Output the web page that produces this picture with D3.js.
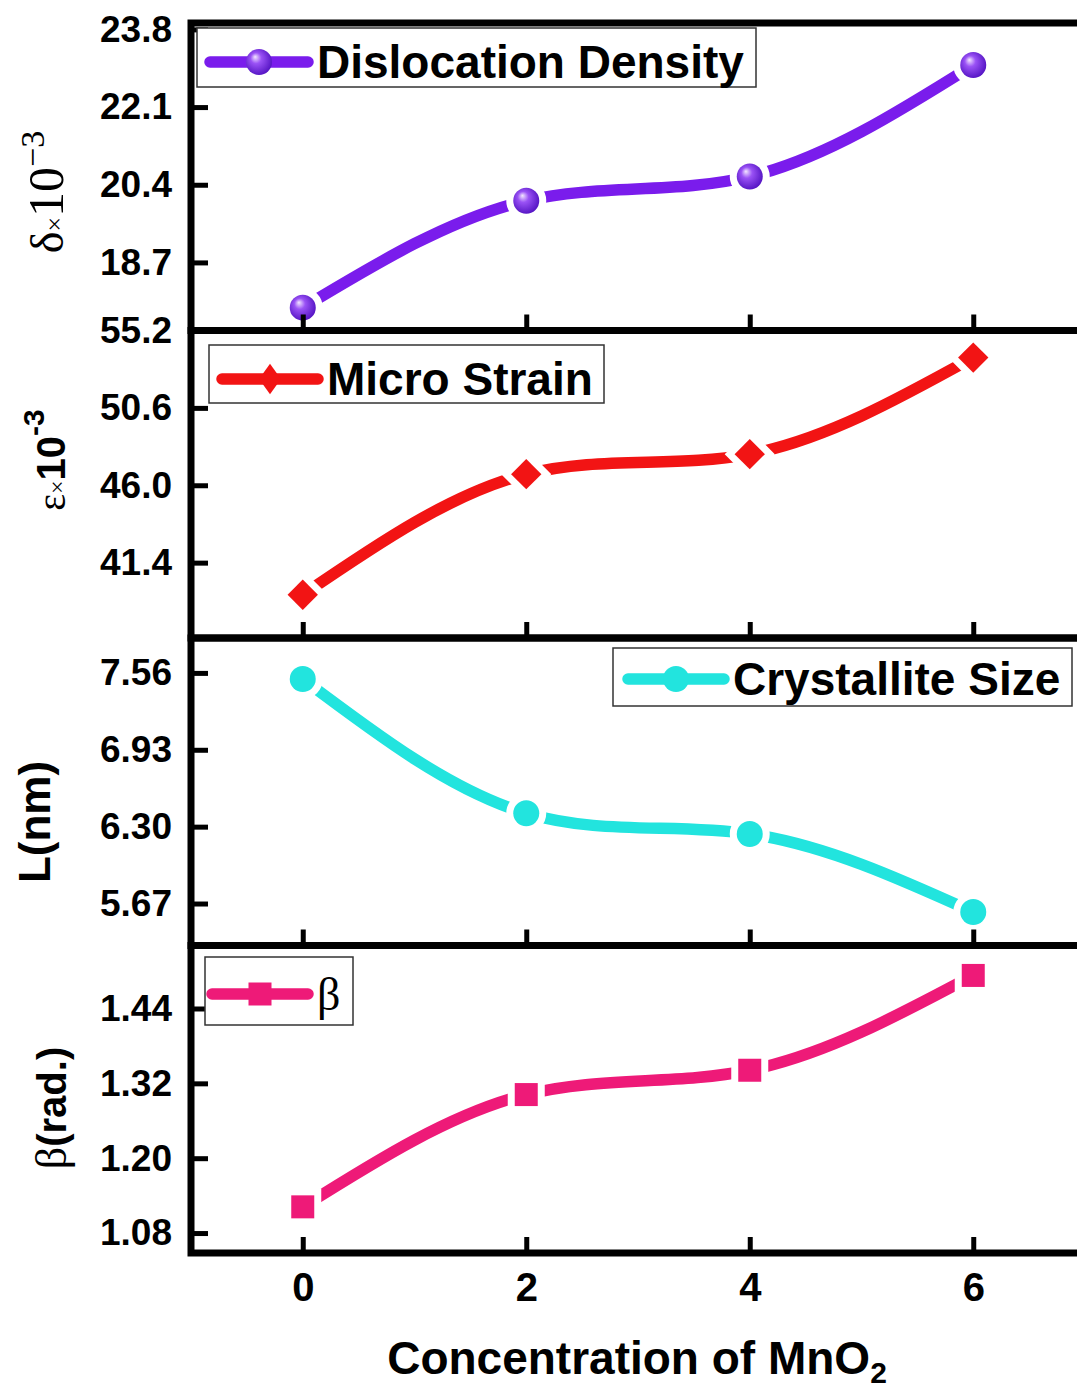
<!DOCTYPE html>
<html>
<head>
<meta charset="utf-8">
<script src="https://cdn.jsdelivr.net/npm/d3@7"></script>
<style>
  body { margin: 0; background: #fff; }
  svg { display: block; }
</style>
</head>
<body>
<div id="chart"></div>
<script>
// shared x axis: concentration of MnO2
const concentration = [0, 2, 4, 6];
const xTicks = [0, 2, 4, 6];
const xLimits = [-1, 7];

// panel 1 - dislocation density (x10^-3)
const dislocationDensity = [17.71, 20.05, 20.58, 23.02];
const densityTicks = [18.7, 20.4, 22.1, 23.8];
const densityLimits = [17.21, 23.94];

// panel 2 - micro strain (x10^-3)
const microStrain = [39.49, 46.66, 47.85, 53.59];
const strainTicks = [41.4, 46.0, 50.6, 55.2];
const strainLimits = [36.92, 55.2];

// panel 3 - crystallite size (nm)
const crystalliteSize = [7.51, 6.41, 6.24, 5.6];
const sizeTicks = [5.67, 6.3, 6.93, 7.56];
const sizeLimits = [5.326, 7.846];

// panel 4 - beta (rad.)
const betaValues = [1.122, 1.302, 1.341, 1.493];
const betaTicks = [1.08, 1.2, 1.32, 1.44];
const betaLimits = [1.048, 1.541];

const W = 1077, H = 1393;
const left = 191, right = 1085;
const firstTop = 23, panelH = 307.5;
const sans = "'Liberation Sans', Arial, sans-serif";
const serif = "'Liberation Serif', 'Times New Roman', serif";

const svg = d3.select("#chart").append("svg").attr("width", W).attr("height", H);

const x = d3.scaleLinear().domain(xLimits).range([left, right]);

// glossy sphere for the purple markers
const grad = svg.append("defs").append("radialGradient")
  .attr("id", "sphereGrad").attr("cx", "45%").attr("cy", "45%").attr("r", "60%")
  .attr("fx", "35%").attr("fy", "30%");
grad.append("stop").attr("offset", "0%").attr("stop-color", "#f3e6ff");
grad.append("stop").attr("offset", "35%").attr("stop-color", "#9a52f5");
grad.append("stop").attr("offset", "100%").attr("stop-color", "#5010c0");

const panels = [
  { values: dislocationDensity, ticks: densityTicks, limits: densityLimits, fmt: ".1f",
    color: "#7a1cec", marker: "sphere" },
  { values: microStrain, ticks: strainTicks, limits: strainLimits, fmt: ".1f",
    color: "#f21414", marker: "diamond" },
  { values: crystalliteSize, ticks: sizeTicks, limits: sizeLimits, fmt: ".2f",
    color: "#22e4de", marker: "circle" },
  { values: betaValues, ticks: betaTicks, limits: betaLimits, fmt: ".2f",
    color: "#ee1a78", marker: "square" }
];

function drawMarker(g, type, cx, cy, color, halo, legend) {
  let el;
  if (type == "sphere" || type == "circle") {
    el = g.append("circle").attr("cx", cx).attr("cy", cy).attr("r", 13)
      .attr("fill", type == "sphere" ? "url(#sphereGrad)" : color);
  } else if (type == "diamond") {
    el = g.append("path")
      .attr("d", d3.symbol(d3.symbolSquare, 460)())
      .attr("transform", `translate(${cx},${cy}) scale(${legend ? 0.72 : 1},1) rotate(45)`)
      .attr("fill", color);
  } else {
    el = g.append("rect").attr("x", cx - 11.5).attr("y", cy - 11.5)
      .attr("width", 23).attr("height", 23).attr("fill", color);
  }
  if (halo) {
    el.attr("stroke", "#fff").attr("stroke-width", 14).attr("paint-order", "stroke");
  }
}

function drawPanel(p, i) {
  const top = firstTop + i * panelH, bottom = top + panelH;
  const y = d3.scaleLinear().domain(p.limits).range([bottom, top]);
  const g = svg.append("g").attr("class", "panel-" + i);
  const pts = concentration.map((c, k) => ({ x: c, y: p.values[k] }));

  const line = d3.line().curve(d3.curveNatural).x(d => x(d.x)).y(d => y(d.y));
  g.append("path").datum(pts).attr("d", line)
    .attr("fill", "none").attr("stroke", p.color)
    .attr("stroke-width", 11.5).attr("stroke-linecap", "round");

  pts.forEach(d => drawMarker(g, p.marker, x(d.x), y(d.y), p.color, true, false));

  // y axis, ticks inside
  const ya = g.append("g").attr("transform", `translate(${left},0)`)
    .call(d3.axisLeft(y).tickValues(p.ticks).tickFormat(d3.format(p.fmt))
      .tickSize(-17).tickSizeOuter(0).tickPadding(19));
  ya.select(".domain").remove();
  ya.selectAll("line").attr("stroke", "#000").attr("stroke-width", 5);
  ya.selectAll("text").attr("font-family", sans).attr("font-weight", "bold")
    .attr("font-size", 37).attr("fill", "#000");

  // x axis ticks at bottom of every panel, labels only on the last
  const last = i == panels.length - 1;
  const xa = g.append("g").attr("transform", `translate(0,${bottom})`)
    .call(d3.axisBottom(x).tickValues(xTicks).tickSize(-16).tickSizeOuter(0)
      .tickPadding(20).tickFormat(last ? d3.format("d") : ""));
  xa.select(".domain").remove();
  xa.selectAll("line").attr("stroke", "#000").attr("stroke-width", 5);
  xa.selectAll("text").attr("font-family", sans).attr("font-weight", "bold")
    .attr("font-size", 40).attr("fill", "#000");

  g.append("rect").attr("x", left).attr("y", top)
    .attr("width", right - left).attr("height", panelH)
    .attr("fill", "none").attr("stroke", "#000").attr("stroke-width", 7);
}

panels.forEach(drawPanel);

function drawLegend(box, x1, x2, cy, p, label, font) {
  const g = svg.append("g").attr("class", "legend");
  g.append("rect").attr("x", box[0]).attr("y", box[1]).attr("width", box[2]).attr("height", box[3])
    .attr("fill", "#fff").attr("stroke", "#333").attr("stroke-width", 1.5);
  g.append("line").attr("x1", x1).attr("x2", x2).attr("y1", cy).attr("y2", cy)
    .attr("stroke", p.color).attr("stroke-width", 11.5).attr("stroke-linecap", "round");
  drawMarker(g, p.marker, (x1 + x2) / 2, cy, p.color, false, true);
  g.append("text").attr("x", x2 + 9).attr("y", cy + 16)
    .attr("font-family", font).attr("font-weight", font == sans ? "bold" : "normal")
    .attr("font-size", 46).attr("fill", "#000").text(label);
}

drawLegend([197, 28, 559, 59], 210, 308, 62, panels[0], "Dislocation Density", sans);
drawLegend([209, 345, 395, 58], 222, 318, 379, panels[1], "Micro Strain", sans);
drawLegend([613, 648, 459, 58], 628, 724, 679, panels[2], "Crystallite Size", sans);
drawLegend([205, 957, 148, 68], 212, 308, 994, panels[3], "β", serif);

// y axis titles
function yTitle(cx, cy, parts) {
  const t = svg.append("text").attr("transform", `translate(${cx},${cy}) rotate(-90)`)
    .attr("text-anchor", "middle").attr("fill", "#000");
  parts.forEach(s => {
    const ts = t.append("tspan").attr("font-family", s.f).attr("font-size", s.size)
      .attr("font-weight", s.b ? "bold" : "normal").text(s.t);
    if (s.dy) ts.attr("dy", s.dy);
  });
  return t;
}

yTitle(63, 192, [
  { t: "δ", f: serif, size: 46 },
  { t: "×", f: serif, size: 26 },
  { t: "10", f: serif, size: 50 },
  { t: "−3", f: serif, size: 34, dy: -19 }
]);
yTitle(65, 460, [
  { t: "ε", f: serif, size: 40 },
  { t: "×", f: serif, size: 24 },
  { t: "10", f: sans, size: 40, b: true },
  { t: "-3", f: sans, size: 30, b: true, dy: -21 }
]);
yTitle(50, 822, [{ t: "L(nm)", f: sans, size: 44, b: true }]);
yTitle(66, 1108, [
  { t: "β", f: serif, size: 44 },
  { t: "(rad.)", f: sans, size: 40, b: true }
]);

// x axis title
const xt = svg.append("text").attr("x", 637).attr("y", 1374).attr("text-anchor", "middle")
  .attr("font-family", sans).attr("font-weight", "bold").attr("font-size", 46).attr("fill", "#000");
xt.append("tspan").text("Concentration of MnO");
xt.append("tspan").attr("font-size", 30).attr("dy", 9).text("2");
</script>
</body>
</html>
